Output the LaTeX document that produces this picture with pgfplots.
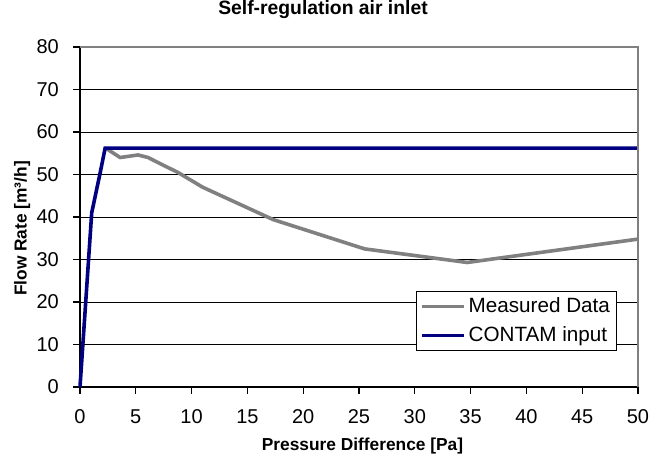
\documentclass[border=0pt]{standalone}
\usepackage{fontspec}
\setmainfont{Liberation Sans}
\usepackage{pgfplots}
\pgfplotsset{compat=1.18}
\definecolor{meas}{RGB}{128,128,128}
\definecolor{contam}{RGB}{0,0,128}
\begin{document}
\begin{tikzpicture}
\path[use as bounding box] (-60pt,-53.25pt) rectangle (426.75pt,290.25pt);
\begin{axis}[
  at={(0,0)}, anchor=south west,
  scale only axis,
  width=418.5pt, height=255pt,
  xmin=0, xmax=50, ymin=0, ymax=80,
  xtick={0,5,...,50}, ytick={0,10,...,80},
  axis lines=left,
  axis line style={black, line width=0.8pt, -},
  tick style={black, line width=0.8pt},
  tick align=outside,
  major tick length=5pt,
  ymajorgrids,
  grid style={black, line width=0.7pt},
  /pgf/number format/assume math mode=true,
  tick label style={font=\fontsize{15}{17}\selectfont},
  xticklabel style={anchor=base, yshift=-22.5pt},
  yticklabel style={xshift=-7.4pt},
  title={\bfseries Self-regulation air inlet},
  title style={font=\fontsize{14.5}{16}\selectfont, at={(rel axis cs:0.4355,1.0735)}, anchor=base},
  xlabel={\bfseries Pressure Difference [Pa]},
  ylabel={\bfseries Flow Rate [m³/h]},
  label style={font=\fontsize{13}{15}\selectfont},
  xlabel style={at={(rel axis cs:0.5063,-0.1882)}, anchor=base},
  ylabel style={at={(rel axis cs:-0.0956,0.466)}, anchor=base},
  legend style={at={(rel axis cs:0.9624,0.1059)}, anchor=south east,
    draw=black, line width=0.6pt, font=\fontsize{15.5}{18}\selectfont,
    inner xsep=3pt, inner ysep=3pt, row sep=5pt, cells={anchor=west}},
  legend image code/.code={\draw[#1, line width=2.4pt] (0pt,0pt) -- (31.5pt,0pt);},
  clip=false,
]
\addplot[meas, line width=2.7pt] coordinates {
(2.3,56.2) (3.6,54.0) (5.2,54.6) (6.1,54.0) (7.6,52.0) (8.7,50.6) (11.0,47.0) (17.3,39.4) (25.5,32.5) (34.7,29.3) (50,34.8)
};
\addlegendentry{Measured Data}
\addplot[contam, line width=2.7pt] coordinates {
(0,0) (1.05,41) (1.8,50.3) (2.25,56.2) (50,56.2)
};
\addlegendentry{CONTAM input}
\draw[meas, line width=0.8pt] (rel axis cs:0,1) -- (rel axis cs:1,1) -- (rel axis cs:1,0);
\end{axis}
\end{tikzpicture}
\end{document}
